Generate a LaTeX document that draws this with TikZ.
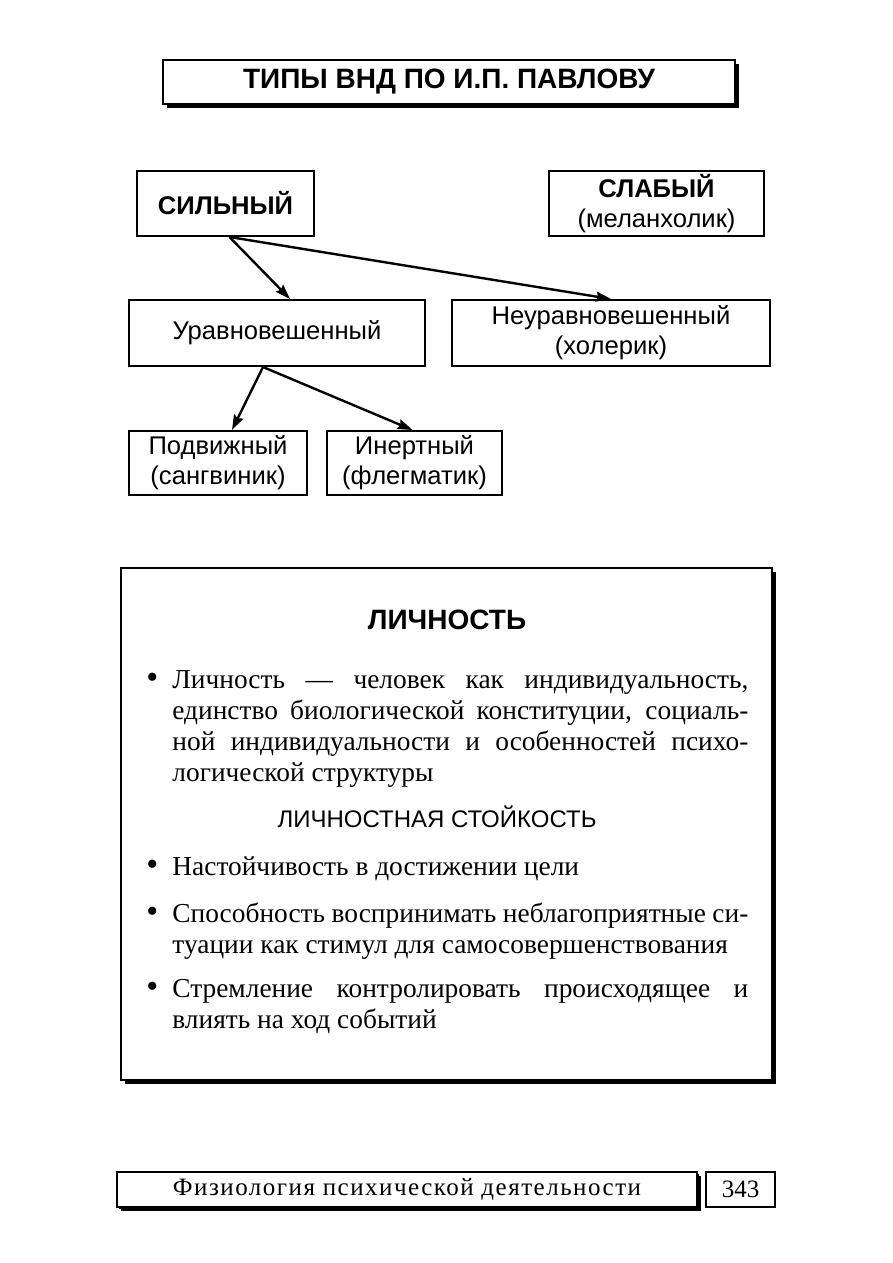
\documentclass[tikz,border=0pt]{standalone}
\usepackage{fontspec}
\setmainfont{Liberation Serif}
\setsansfont{Liberation Sans}
\usetikzlibrary{arrows.meta,shadows}
\hyphenpenalty=10000
\exhyphenpenalty=10000
\tikzset{
  >={Stealth[length=7.5pt,width=5pt,inset=1pt]},
  box/.style={draw,line width=1pt,fill=white,inner sep=0pt,align=center,
              font=\sffamily\fontsize{12.8}{15}\selectfont},
  sbox/.style={box,drop shadow={shadow xshift=2pt,shadow yshift=-2pt,opacity=1,fill=black}}, % thick right/bottom edge
  arr/.style={->,line width=1.2pt},
  head/.style={font=\sffamily\bfseries\fontsize{14}{17}\selectfont,inner sep=0pt},
  item/.style={anchor=north west,inner sep=0pt,text width=288pt,align=justify,
               font=\fontsize{13.7}{15.5}\selectfont},
}
\newcommand{\bul}{\llap{{\fontsize{17}{17}\selectfont\textbullet}\hspace{7pt}}}

\begin{document}
\begin{tikzpicture}[x=0.5pt,y=-0.5pt]
  \useasboundingbox (0,0) rectangle (893,1263);
  % title
  \node[sbox,head,minimum width=286pt,minimum height=22pt] (title) at (449,82)
    {ТИПЫ ВНД ПО И.П. ПАВЛОВУ};
  % types
  \node[box,minimum width=88.5pt,minimum height=32.5pt] (sil) at (225.5,203.5)
    {\bfseries СИЛЬНЫЙ};
  \node[box,minimum width=107.5pt,minimum height=32.5pt] (slab) at (656.5,203.5)
    {\bfseries СЛАБЫЙ\\(меланхолик)};
  \node[box,minimum width=148pt,minimum height=33pt] (urav) at (277,333)
    {Уравновешенный};
  \node[box,minimum width=159pt,minimum height=33pt] (neur) at (611,333)
    {Неуравновешенный\\(холерик)};
  \node[box,minimum width=89pt,minimum height=32pt] (podv) at (218,463)
    {Подвижный\\(сангвиник)};
  \node[box,minimum width=87.5pt,minimum height=32pt] (inert) at (414.5,463)
    {Инертный\\(флегматик)};
  \draw[arr] ([xshift=2pt]sil.south) -- ([xshift=6.5pt]urav.north);
  \draw[arr] ([xshift=2pt]sil.south) -- (neur.north);
  \draw[arr] ([xshift=-7pt]urav.south) -- ([xshift=7pt]podv.north);
  \draw[arr] ([xshift=-7pt]urav.south) -- ([xshift=-1pt]inert.north);
  % personality
  \node[sbox,minimum width=325.5pt,minimum height=256pt] (lich) at (446.5,824) {};
  \node[head] (lichh) at (447,620) {ЛИЧНОСТЬ};
  \node[item] (it1) at (172,670)
    {\bul Личность — человек как индивидуальность,\linebreak
     единство биологической конституции, социаль-\linebreak
     ной индивидуальности и особенностей психо-\linebreak
     логической структуры};
  \node[font=\sffamily\fontsize{12}{14}\selectfont,inner sep=0pt] (stoik) at (437,817)
    {ЛИЧНОСТНАЯ СТОЙКОСТЬ};
  \node[item] (it2) at (172,856) {\bul Настойчивость в достижении цели};
  \node[item] (it3) at (172,902)
    {\bul Способность воспринимать неблагоприятные си-\linebreak
     туации как стимул для самосовершенствования};
  \node[item] (it4) at (172,979)
    {\bul Стремление контролировать происходящее и\linebreak
     влиять на ход событий};
  % footer
  \node[sbox,minimum width=290pt,minimum height=17.5pt,
        drop shadow={shadow xshift=1.2pt,shadow yshift=-1.2pt,opacity=1,fill=black},
        font=\fontsize{12.5}{15}\selectfont\addfontfeature{LetterSpace=6}] (foot) at (407,1189.5)
    {Физиология психической деятельности};
  \node[box,minimum width=34.5pt,minimum height=17.5pt,
        font=\fontsize{12.5}{15}\selectfont] (page) at (740.5,1189.5) {343};
\end{tikzpicture}
\end{document}
